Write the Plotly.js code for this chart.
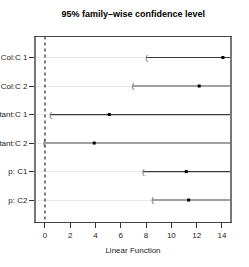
<!DOCTYPE html>
<html><head><meta charset="utf-8">
<script src="https://cdn.plot.ly/plotly-3.0.1.min.js"></script>
<style>html,body{margin:0;padding:0;background:#fff}#c{width:249px;height:267px}</style>
</head><body><div id="c"></div>
<script>
const labels = ["Col:C 1","Col:C 2","Constant:C 1","Constant:C 2","p: C1","p: C2"];
const estimates = [14.08, 12.2, 5.09, 3.9, 11.18, 11.37];
const lowers = [8.04, 6.96, 0.45, -0.05, 7.78, 8.52];
const upperInf = 100;
const xTicks = [0,2,4,6,8,10,12,14];

const traces = [];
labels.forEach((lab,i)=>{
  const odd = i%2===0;
  traces.push({x:[lowers[i], upperInf], y:[i,i], mode:'lines', type:'scatter',
    line:{color: odd?'#3a3a3a':'#a0a0a0', width: odd?1.2:2}, hoverinfo:'skip', showlegend:false});
  traces.push({x:[lowers[i]], y:[i], mode:'text', text:['('], type:'scatter',
    marker:{color:'#555'}, line:{color:'#555'},
    textfont:{size:8, color:['#555'], family:'Liberation Sans, Arial, sans-serif'}, textposition:'middle center', showlegend:false, hoverinfo:'skip'});
  traces.push({x:[estimates[i]], y:[i], mode:'markers', type:'scatter',
    marker:{size:3, color:'#000', symbol:'square'}, showlegend:false, hoverinfo:'skip'});
});
traces.push({x:[0,0], y:[-2,8], mode:'lines', type:'scatter', line:{color:'#000', width:1, dash:'dot'}, showlegend:false, hoverinfo:'skip'});

const layout = {
  width:249, height:267,
  margin:{l:36, r:19, t:37, b:45},
  paper_bgcolor:'#fff', plot_bgcolor:'#fff',
  font:{family:'Liberation Sans, Arial, sans-serif', size:8, color:'#222'},
  title:{text:'<b>95% family\u2013wise confidence level</b>', font:{size:9, color:'#000'}, x:0.535, xanchor:'center', y:0.95, yanchor:'middle'},
  xaxis:{range:[-0.71,14.64], tickvals:xTicks, ticktext:xTicks.map(String), ticks:'outside', ticklen:5, tickcolor:'#333',
    showgrid:false, zeroline:false, showline:true, linecolor:'#444', linewidth:1.2, mirror:true,
    title:{text:'Linear Function', font:{size:8, color:'#222'}, standoff:8}, tickfont:{size:8, color:'#222'}},
  yaxis:{range:[5.77,-0.72], tickvals:labels.map((_,i)=>i), ticktext:labels, ticks:'outside', ticklen:5, tickcolor:'#333',
    showgrid:true, gridcolor:'#e8e8e8', gridwidth:1, zeroline:false, showline:true, linecolor:'#777', linewidth:2, mirror:true,
    tickfont:{size:8, color:'#222'}, automargin:false}
};
Plotly.newPlot('c', traces, layout, {staticPlot:true, displayModeBar:false});
</script></body></html>
